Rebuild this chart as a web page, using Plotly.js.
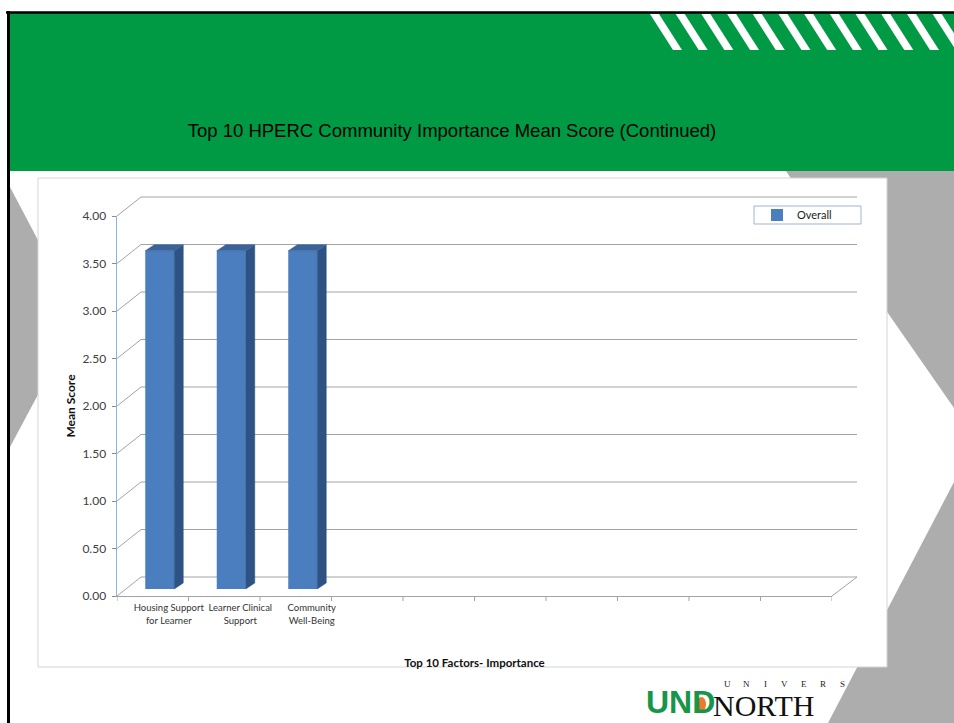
<!DOCTYPE html>
<html><head><meta charset="utf-8">
<script src="https://cdn.plot.ly/plotly-3.0.1.min.js"></script>
<style>html,body{margin:0;padding:0;background:#fff;overflow:hidden}#chart{width:954px;height:723px}</style>
</head><body><div id="chart"></div>
<script>
// ---- data ----
const categories = ["Housing Support<br>for Learner", "Learner Clinical<br>Support", "Community<br>Well-Being"];
const overall = [3.56, 3.56, 3.56];
const slotCount = 10;
const yTicks = [0, 0.5, 1, 1.5, 2, 2.5, 3, 3.5, 4];
const seriesName = "Overall";
const chartTitle = "Top 10 HPERC Community Importance Mean Score (Continued)";
const xTitle = "Top 10 Factors- Importance";
const yTitle = "Mean Score";
const logoLetters = ["U", "N", "I", "V", "E", "R", "S"];

// ---- geometry (pixels of the plot frame) ----
const W = 954, H = 723, L = 117, R = 832, T = 216, B = 596;
const X = px => (px - L) / (R - L);
const Y = py => (B - py) / (B - T);
const yMax = 4;
const pxPerCat = (R - L) / slotCount;
const pxPerUnit = (B - T) / yMax;
const wallDx = 24, wallDy = 19;
const barShift = 7 / pxPerCat, barWidth = 29 / pxPerCat, barBase = 7 / pxPerUnit;
const depthX = 9 / pxPerCat, depthY = 6 / pxPerUnit;
const labelShift = 16 / pxPerCat;

const shapes = [];
const poly = (pts, fill) => shapes.push({type: 'path', xref: 'paper', yref: 'paper', layer: 'below',
  path: 'M' + pts.map(p => X(p[0]).toFixed(5) + ',' + Y(p[1]).toFixed(5)).join('L') + 'Z',
  fillcolor: fill, line: {width: 0}});
const seg = (x0, y0, x1, y1, color, width) => shapes.push({type: 'line', xref: 'paper', yref: 'paper', layer: 'below',
  x0: X(x0), y0: Y(y0), x1: X(x1), y1: Y(y1), line: {color: color, width: width}});
const rect = (x0, y0, x1, y1, fill, lc, lw) => shapes.push({type: 'rect', xref: 'paper', yref: 'paper', layer: 'below',
  x0: X(x0), y0: Y(y0), x1: X(x1), y1: Y(y1), fillcolor: fill, line: {color: lc, width: lw}});

const GRAY = '#adadad';
// slide decorations
poly([[10, 187], [79, 318], [10, 447]], GRAY);
poly([[786, 171], [954, 171], [954, 408], [860, 273], [792, 180]], GRAY);
poly([[954, 482], [954, 723], [828, 723]], GRAY);
rect(9, 13, 956, 171, '#009a44', 'rgba(0,0,0,0)', 0);
for (let i = 0; i < 12; i++) {
  const x0 = 650 + 25.7 * i;
  poly([[x0, 14], [x0 + 9, 14], [x0 + 32, 50], [x0 + 23, 50]], '#ffffff');
}
seg(6, 12.5, 956, 12.5, '#000000', 2.5);
seg(8.5, 11, 8.5, 725, '#000000', 3);
// chart box
rect(38, 178, 887, 667, '#ffffff', '#d4d4d4', 1);
// legend box
rect(754, 206, 861, 224, '#ffffff', '#9fb3d3', 1);
// back wall gridlines with their diagonal to the front axis
yTicks.forEach(v => {
  const yf = B - v * pxPerUnit;
  seg(L, yf, L + wallDx, yf - wallDy, '#a3a3a3', 1);
  seg(L + wallDx, yf - wallDy, R + wallDx + 1, yf - wallDy, '#a3a3a3', 1.2);
});
// floor right edge
seg(R, B, R + wallDx + 1, B - wallDy, '#a3a3a3', 1);
// category boundary ticks
for (let k = 0; k <= slotCount; k++) {
  shapes.push({type: 'line', xref: 'x', yref: 'paper', layer: 'below', x0: k - 0.5, x1: k - 0.5,
    y0: 0, y1: -5 / (B - T), line: {color: '#a3a3a3', width: 1}});
}
// logo flame
shapes.push({type: 'circle', xref: 'paper', yref: 'paper', layer: 'below',
  x0: X(697), x1: X(706), y0: Y(697), y1: Y(712), fillcolor: '#ee7a32', line: {width: 0}});

// ---- traces ----
const idx = overall.map((v, i) => i);
const front = {
  type: 'bar', name: seriesName, x: idx.map(i => i + barShift), y: overall,
  base: overall.map(() => barBase), width: barWidth,
  marker: {color: '#4a7ebf', line: {width: 0}}, showlegend: true, hoverinfo: 'y'
};
const sx = [], sy = [], tx = [], ty = [];
overall.forEach((v, i) => {
  const xl = i + barShift - barWidth / 2, xr = i + barShift + barWidth / 2;
  const top = barBase + v;
  sx.push(xr, xr, xr + depthX, xr + depthX, xr, null);
  sy.push(barBase, top, top + depthY, barBase + depthY, barBase, null);
  tx.push(xl, xr, xr + depthX, xl + depthX, xl, null);
  ty.push(top, top, top + depthY, top + depthY, top, null);
});
const side = {type: 'scatter', mode: 'lines', x: sx, y: sy, fill: 'toself', fillcolor: '#2d5283',
  line: {color: '#2d5283', width: 0.5}, showlegend: false, hoverinfo: 'skip'};
const topFace = {type: 'scatter', mode: 'lines', x: tx, y: ty, fill: 'toself', fillcolor: '#3a6399',
  line: {color: '#3a6399', width: 0.5}, showlegend: false, hoverinfo: 'skip'};

// ---- annotations (logo) ----
const annotations = [
  {xref: 'paper', yref: 'paper', x: X(644), y: Y(702), xanchor: 'left', yanchor: 'middle', showarrow: false,
   text: '<b>UND</b>', font: {family: 'Liberation Sans', size: 32, color: '#17964a'}},
  {xref: 'paper', yref: 'paper', x: X(711), y: Y(705), xanchor: 'left', yanchor: 'middle', showarrow: false,
   text: 'NORTH', font: {family: 'Liberation Serif', size: 30, color: '#111111'}}
];
logoLetters.forEach((ch, i) => annotations.push({xref: 'paper', yref: 'paper', x: X(727 + 19.2 * i), y: Y(684),
  xanchor: 'center', yanchor: 'middle', showarrow: false, text: ch,
  font: {family: 'Liberation Serif', size: 9, color: '#222222'}}));

const layout = {
  width: W, height: H,
  margin: {l: L, r: W - R, t: T, b: H - B, pad: 0},
  paper_bgcolor: '#ffffff', plot_bgcolor: 'rgba(0,0,0,0)',
  title: {text: chartTitle, x: 452 / W, xref: 'container', y: 1 - 131 / H, yref: 'container',
    xanchor: 'center', yanchor: 'middle', font: {family: 'Liberation Sans', size: 18.5, color: '#000000'}},
  xaxis: {range: [-0.5, slotCount - 0.5], tickmode: 'array', tickvals: categories.map((c, i) => i + labelShift),
    ticktext: categories, ticks: '', showline: true, linecolor: '#a3a3a3', linewidth: 1,
    showgrid: false, zeroline: false, fixedrange: true, ticklabelstandoff: 3,
    tickfont: {family: 'Lato', size: 9.5, color: '#333333'},
    title: {text: xTitle, standoff: 34, font: {family: 'Lato', size: 11.5, color: '#111111', weight: 700}}},
  yaxis: {range: [0, yMax], tickmode: 'array', tickvals: yTicks, ticktext: yTicks.map(v => v.toFixed(2)),
    ticks: 'outside', ticklen: 4, tickcolor: '#8c8c8c', showline: true, linecolor: '#8db3e2', linewidth: 1.5,
    showgrid: false, zeroline: false, fixedrange: true, ticklabelstandoff: 3,
    tickfont: {family: 'Lato', size: 12, color: '#404040'},
    title: {text: yTitle, standoff: 4, font: {family: 'Lato', size: 12, color: '#111111', weight: 700}}},
  showlegend: true,
  legend: {x: X(757), y: Y(215), xanchor: 'left', yanchor: 'middle', bgcolor: 'rgba(0,0,0,0)', borderwidth: 0,
    font: {family: 'Lato', size: 11, color: '#222222'}},
  shapes: shapes, annotations: annotations
};
Plotly.newPlot('chart', [front, side, topFace], layout, {staticPlot: true, displayModeBar: false});
</script></body></html>
